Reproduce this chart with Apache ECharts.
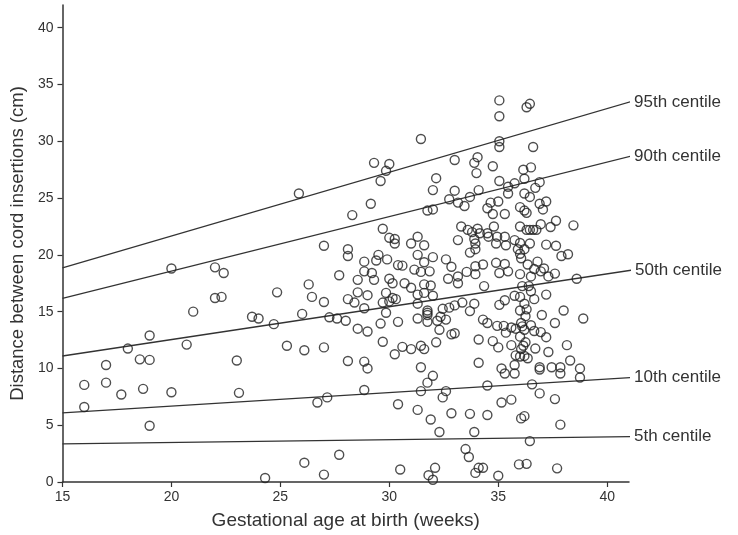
<!DOCTYPE html>
<html>
<head>
<meta charset="utf-8">
<script src="https://cdn.jsdelivr.net/npm/echarts@6/dist/echarts.min.js"></script>
<style>
	html, body {margin: 0; padding: 0; background: #fff;}
	#chart {width: 738px; height: 535px;}
</style>
</head>
<body>
<div id="chart"></div>
<script>
//	gestational age (weeks) and distance between cord insertions (cm), one entry per case
var ages = [
	20.0, 22.0, 22.4, 22.0, 22.3, 21.0, 19.0, 20.7, 18.0, 18.55, 19.0, 23.0, 17.0, 16.0, 17.0, 18.7, 17.7, 20.0, 23.1, 16.0, 19.0,
	29.3, 30.0, 29.85, 29.6, 25.85, 29.15, 28.3, 29.7, 30.0, 30.25, 30.25, 27.0, 28.1, 28.1, 28.85, 29.5, 29.4, 29.9, 30.4,
	28.85, 29.2, 29.3, 28.55, 27.7, 30.0, 30.15, 26.3, 24.85, 26.45, 27.0, 28.55, 29.0, 28.1, 28.4, 29.85, 30.15, 29.7, 30.0,
	28.85, 29.85, 26.0, 23.7, 24.0, 24.7, 27.25, 27.6, 28.0, 29.6, 30.4, 28.55, 29.0, 29.7, 25.3, 26.1, 27.0, 30.25, 28.1,
	28.85, 29.0, 28.85, 26.7, 27.15, 30.4, 27.7, 26.1, 27.0, 24.3,
	30.5, 31.8, 32.0, 32.1, 33.5, 33.65, 33.95, 34.1, 34.3, 35.0, 35.95, 36.3, 37.7, 36.45,
	31.45, 33.0, 33.9, 34.05, 34.0, 34.75, 32.15, 32.0, 33.0, 34.1, 32.75, 33.15, 33.45, 33.7, 34.5, 34.65, 31.75, 32.0,
	34.75, 33.3, 33.6, 33.8, 34.05, 34.15, 34.5, 33.15, 33.9, 34.55, 33.95, 33.7, 33.95, 31.3, 31.0, 31.6, 31.3, 32.0,
	32.6, 32.85, 30.6, 31.6, 31.15, 31.45, 31.85, 33.15, 33.55, 33.95, 34.3, 33.95, 32.7,
	30.7, 31.0, 31.3, 31.6, 31.9, 31.6, 32.0, 33.15, 34.35, 30.3, 31.3, 31.75, 31.75, 31.75, 32.45, 32.75, 33.0, 33.35,
	33.9, 33.7, 31.3, 31.75, 32.2, 32.35, 32.6, 32.3, 32.85, 33.0, 32.15, 34.1, 34.3, 34.5, 34.75, 30.6, 31.0, 31.45, 31.6,
	31.45, 32.0, 31.75, 31.45, 32.6, 32.45, 34.1, 34.5, 31.3, 31.9, 32.85, 33.7, 34.5, 32.3, 33.9,
	35.05, 35.05, 36.3, 36.45, 35.05, 35.05, 36.6, 36.15, 36.5, 36.2, 35.05, 36.9, 35.75, 35.45, 36.7, 36.2, 36.45, 35.45,
	35.0, 35.3, 36.0, 36.2, 36.3, 36.9, 37.05, 37.2, 37.65, 36.95, 37.4, 38.45, 36.0, 36.3, 36.45, 36.6, 36.75, 34.8,
	34.95, 35.3, 35.75, 34.9, 35.35, 36.0, 36.2, 35.9, 36.45, 37.2, 37.65, 36.0, 36.05, 37.9, 38.2, 34.9, 35.3, 35.05,
	35.45, 36.35, 36.8, 36.65, 36.95, 36.0, 36.5, 37.3, 37.6, 38.6, 37.1,
	35.05, 35.3, 36.65, 37.2, 35.75, 36.5, 36.1, 36.4, 36.0, 36.2, 36.0, 36.25, 36.05, 36.2, 36.0, 36.25, 36.05, 36.3,
	36.1, 36.15, 34.95, 35.25, 35.35, 35.6, 35.8, 36.5, 36.65, 36.95, 37.2, 37.0, 37.6, 38.0, 38.9, 35.0, 35.6, 35.8,
	36.0, 36.2, 36.35, 36.7, 37.3, 38.15, 35.15, 35.3, 35.75, 35.75, 36.9, 36.9, 37.45, 37.85, 37.85, 38.3, 38.75, 38.75,
	36.55, 36.9, 35.15, 35.6, 37.6, 36.05, 36.2, 37.85
];
var distances = [
	18.8, 18.9, 18.4, 16.2, 16.3, 15.0, 12.9, 12.1, 11.75, 10.8, 10.75, 10.7, 10.3, 8.55, 8.75, 8.2, 7.7, 7.9, 7.85, 6.6, 4.95,
	28.1, 28.0, 27.4, 26.5, 25.4, 24.5, 23.5, 22.3, 21.5, 21.4, 21.0, 20.8, 20.5, 19.9, 19.4, 20.0, 19.5, 19.6, 19.1,
	18.55, 18.4, 17.8, 17.8, 18.2, 17.9, 17.5, 17.4, 16.7, 16.3, 15.85, 16.7, 16.45, 16.1, 15.8, 16.65, 16.2, 15.8, 15.9,
	15.3, 14.9, 14.8, 14.55, 14.4, 13.9, 14.5, 14.4, 14.2, 13.95, 14.1, 13.5, 13.25, 12.35, 12.0, 11.6, 11.85, 11.25, 10.65,
	10.6, 10.0, 8.1, 7.0, 7.45, 6.85, 2.4, 1.7, 0.65, 0.35,
	1.1, 0.6, 0.2, 1.25, 2.9, 2.2, 0.8, 1.25, 1.25, 0.55, 1.55, 1.6, 1.2, 3.6,
	30.2, 28.35, 28.1, 28.6, 27.2, 27.8, 26.75, 25.7, 25.65, 25.7, 24.9, 24.6, 24.3, 25.1, 24.1, 24.6, 23.9, 24.0,
	23.6, 22.5, 22.2, 22.0, 22.3, 21.9, 21.9, 21.3, 21.4, 21.6, 21.0, 20.2, 20.5, 21.6, 21.0, 20.85, 20.0, 19.8,
	19.6, 18.95, 19.05, 19.35, 18.7, 18.5, 18.55, 18.1, 18.5, 19.0, 19.15, 18.3, 17.9,
	17.5, 17.1, 16.5, 17.4, 17.3, 16.65, 16.4, 17.5, 17.25, 16.1, 15.7, 15.1, 14.9, 14.7, 15.25, 15.35, 15.55, 15.8,
	15.7, 15.05, 14.4, 14.1, 14.2, 14.55, 14.3, 13.4, 13.0, 13.1, 12.3, 12.55, 14.3, 14.0, 12.4, 11.9, 11.7, 12.0, 11.7,
	10.1, 9.35, 8.75, 8.0, 8.0, 7.45, 10.5, 8.5, 6.35, 5.5, 6.05, 6.0, 5.9, 4.4, 4.4,
	33.6, 32.2, 33.0, 33.3, 30.0, 29.5, 29.5, 27.5, 27.7, 26.7, 26.5, 26.4, 26.3, 26.0, 25.9, 25.4, 25.1, 25.4,
	24.7, 23.6, 24.2, 23.9, 23.7, 24.5, 24.0, 24.7, 23.0, 22.7, 22.45, 22.6, 22.5, 22.2, 22.2, 22.2, 22.2, 22.5,
	21.6, 21.6, 21.3, 21.0, 20.85, 21.05, 20.5, 20.5, 21.0, 20.9, 20.8, 20.1, 19.7, 19.9, 20.05, 19.3, 19.2, 18.4,
	18.55, 19.15, 19.4, 18.75, 18.55, 18.3, 18.1, 18.1, 18.35, 17.9, 18.8,
	15.6, 16.0, 16.1, 16.5, 16.4, 16.8, 17.25, 17.25, 16.3, 15.7, 15.1, 14.6, 14.0, 13.4, 12.8, 12.3, 11.7, 15.2,
	13.7, 12.0, 13.75, 13.75, 13.15, 13.6, 13.5, 13.8, 13.3, 13.2, 12.75, 14.7, 14.0, 15.1, 14.4, 11.85, 12.05, 11.15,
	11.05, 11.1, 10.9, 11.75, 11.45, 12.05, 10.0, 9.55, 9.55, 10.3, 10.1, 9.9, 10.1, 10.1, 9.55, 10.7, 10.0, 9.2,
	8.6, 7.8, 7.0, 7.25, 7.3, 5.6, 5.8, 5.05
];

//	fitted centile lines, value at the start (15 wk) and at the right end of the axis
var centileNames = ['95th centile', '90th centile', '50th centile', '10th centile', '5th centile'];
var centileStart = [18.85, 16.17, 11.1, 6.08, 3.36];
var centileEnd = [33.5, 28.7, 18.65, 9.2, 4.0];
var lineAges = [15, 41.1];

var xTicks = [15, 20, 25, 30, 35, 40];
var yTicks = [0, 5, 10, 15, 20, 25, 30, 35, 40];

var points = [];
for(var i=0; i<ages.length; i++) {
	points.push([ages[i], distances[i]]);
}

var series = [{
	name: 'cases',
	type: 'scatter',
	data: points,
	symbol: 'circle',
	symbolSize: 9,
	itemStyle: {
		color: 'rgba(0,0,0,0)',
		borderColor: '#222',
		borderWidth: 1.4
	},
	z: 3
}];

for(var i=0; i<centileNames.length; i++) {
	series.push({
		name: centileNames[i],
		type: 'line',
		data: [[lineAges[0], centileStart[i]], [lineAges[1], centileEnd[i]]],
		showSymbol: false,
		clip: false,
		silent: true,
		lineStyle: {color: '#333', width: i == 2 ? 1.6 : 1.2},
		endLabel: {
			show: true,
			formatter: '{a}',
			distance: 4,
			color: '#333',
			fontSize: 17,
			fontFamily: 'Liberation Sans'
		},
		z: 2
	});
}

var axisText = {color: '#333', fontSize: 14, fontFamily: 'Liberation Sans'};

var myChart = echarts.init(document.getElementById('chart'), null, {renderer: 'canvas'});
var option = {
	animation: false,
	grid: {left: 60, right: 109, top: 5, bottom: 52},
	xAxis: {
		type: 'value',
		min: 15,
		max: 41,
		interval: 5,
		name: 'Gestational age at birth (weeks)',
		nameLocation: 'middle',
		nameGap: 29,
		nameTextStyle: {color: '#333', fontSize: 19, fontFamily: 'Liberation Sans'},
		splitLine: {show: false},
		axisLine: {show: true, onZero: false, lineStyle: {color: '#333', width: 1.5}},
		axisTick: {show: true, length: 5, customValues: xTicks, lineStyle: {color: '#333', width: 1.2}},
		axisLabel: Object.assign({margin: 8, customValues: xTicks}, axisText)
	},
	yAxis: {
		type: 'value',
		min: 0,
		max: 42,
		interval: 5,
		name: 'Distance between cord insertions (cm)',
		nameLocation: 'middle',
		nameGap: 30,
		nameTextStyle: {color: '#333', fontSize: 18.5, fontFamily: 'Liberation Sans'},
		splitLine: {show: false},
		axisLine: {show: true, onZero: false, lineStyle: {color: '#333', width: 1.5}},
		axisTick: {show: true, length: 5, customValues: yTicks, lineStyle: {color: '#333', width: 1.2}},
		axisLabel: Object.assign({margin: 9, customValues: yTicks}, axisText)
	},
	series: series
};
myChart.setOption(option);
</script>
</body>
</html>
